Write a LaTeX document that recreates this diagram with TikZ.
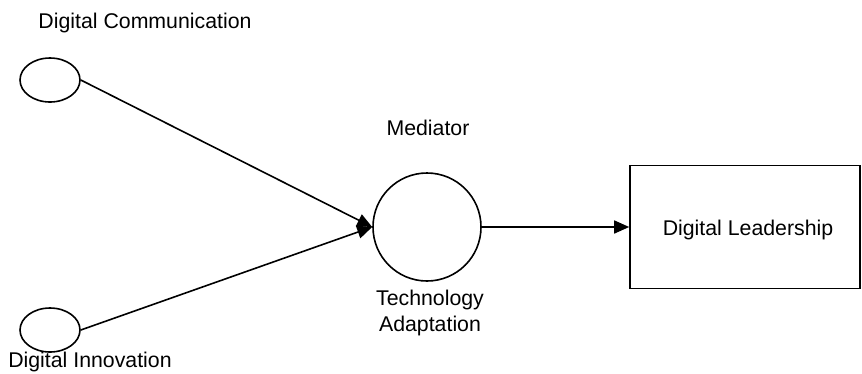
\documentclass[tikz,border=0pt]{standalone}
\usepackage{fontspec}
\setmainfont{Liberation Sans}
\usetikzlibrary{arrows.meta,shapes.geometric}
\begin{document}
\begin{tikzpicture}[x=1pt,y=-1pt,
  lbl/.style={font=\fontsize{21.3}{25.5}\selectfont, inner sep=0pt, align=center},
  ell/.style={draw, line width=1.6pt, ellipse, minimum width=60pt, minimum height=44pt, inner sep=0pt},
  conn/.style={line width=1.6pt, -{Triangle[length=15pt,width=13pt]}}]
\useasboundingbox (0,0) rectangle (862,373);
\node[ell] (dc) at (50,80) {};
\node[ell] (di) at (50,330) {};
\node[draw, circle, line width=1.6pt, minimum size=108pt, inner sep=0pt] (med) at (427,227) {};
\node[draw, line width=1.6pt, minimum width=230pt, minimum height=123pt, inner sep=0pt] (dl) at (745,227) {};
\node[lbl] (tdc) at (145,23) {Digital Communication};
\node[lbl] (tdi) at (90,362) {Digital Innovation};
\node[lbl] (tmed) at (428,128) {Mediator};
\node[lbl] (tta) at (430,313) {Technology\\Adaptation};
\node[lbl] (tdl) at (748,230) {Digital Leadership};
\draw[conn] (dc.east) -- (med.west);
\draw[conn] (di.east) -- (med.west);
\draw[conn] (med.east) -- (dl.west);
\end{tikzpicture}
\end{document}
